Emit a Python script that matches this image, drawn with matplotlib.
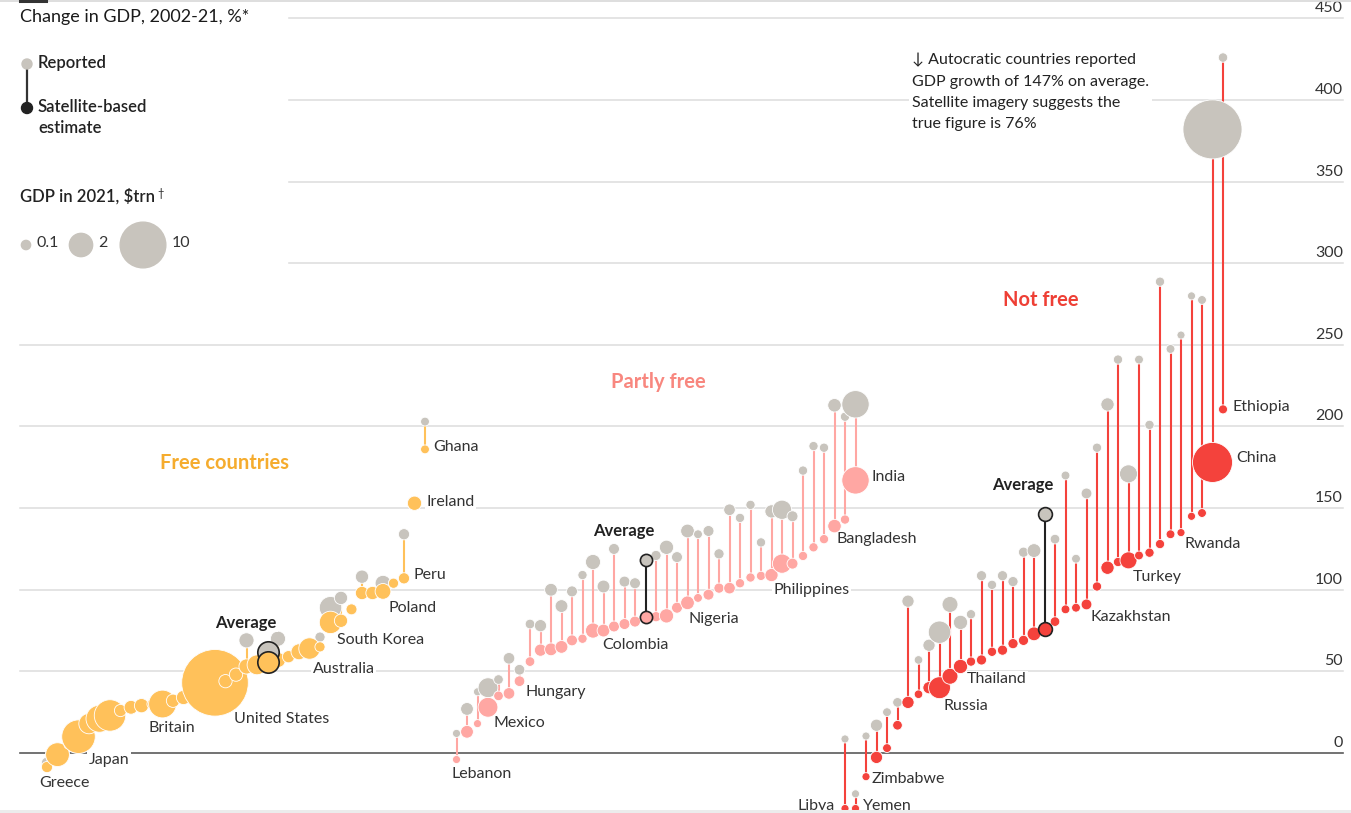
import numpy as np
import matplotlib.pyplot as plt
from matplotlib.patches import Rectangle, Circle

plt.rcParams['font.family'] = ['Lato', 'DejaVu Sans']

W, H, DPI = 1351, 813, 100

# % change in GDP 2002-21, each group sorted by satellite-based estimate
free_est = [-8.6, -1, 5, 10, 18, 21, 23, 26, 28, 29, 30, 30, 32, 34, 37, 40, 43, 44, 48, 53,
            54, 57, 59, 62, 64, 65, 80, 81, 88, 98, 98, 99, 104, 107, 153, 186]
free_rep = [-6, -1, 5, 10, 18, 21, 23, 26, 28, 29, 30, 30, 32, 34, 37, 40, 43, 44, 48, 69,
            54, 70, 59, 62, 64, 71, 89, 95, 88, 108, 98, 104, 104, 134, 153, 203]
free_gdp = [0.22, 2.1, 0.05, 4.9, 1.4, 2.9, 4.2, 0.3, 0.45, 0.5, 0.15, 3.1, 0.4, 0.5, 0.2, 0.2,
            23.0, 0.4, 0.4, 0.6, 1.3, 0.6, 0.3, 0.7, 1.6, 0.15, 1.8, 0.4, 0.2, 0.4, 0.4, 0.68,
            0.15, 0.22, 0.5, 0.08]
free_names = {0: 'Greece', 3: 'Japan', 11: 'Britain', 16: 'United States', 24: 'Australia',
              26: 'South Korea', 31: 'Poland', 33: 'Peru', 34: 'Ireland', 35: 'Ghana'}

partly_est = [-4, 13, 18, 28, 35, 36.5, 44, 56, 63, 63.5, 65, 69, 70, 75, 75, 77.5, 79, 80.5,
              83.5, 84, 89, 92, 95, 97, 101, 101, 104, 107.5, 108.5, 109, 116, 116, 120.7, 126,
              131, 139, 143, 167]
partly_rep = [12, 27, 37.5, 40, 45, 58, 51, 79, 78, 100, 90, 99, 109, 117, 102, 125, 105, 104,
              121, 126, 120, 136, 134, 136, 122, 149, 144, 152, 129, 148, 149, 145, 173, 188,
              187, 213, 206, 213.6]
partly_gdp = [0.05, 0.35, 0.05, 1.3, 0.12, 0.25, 0.18, 0.12, 0.3, 0.35, 0.35, 0.2, 0.1, 0.6,
              0.35, 0.2, 0.2, 0.2, 0.15, 0.5, 0.2, 0.44, 0.08, 0.2, 0.15, 0.25, 0.1, 0.1, 0.1,
              0.39, 1.2, 0.2, 0.1, 0.1, 0.1, 0.42, 0.1, 3.0]
partly_names = {0: 'Lebanon', 3: 'Mexico', 6: 'Hungary', 14: 'Colombia', 21: 'Nigeria',
                29: 'Philippines', 35: 'Bangladesh', 37: 'India'}

notfree_est = [-34, -34, -14.5, -2.7, 3, 17, 31, 36, 40, 40, 47, 53, 56, 57, 62, 63, 67, 69, 73,
               80.5, 88, 89, 91, 102, 113.5, 117, 118, 121, 122.7, 128, 134, 135, 145, 147,
               178, 210.5]
notfree_rep = [8.6, -25, 10.4, 17, 25, 31, 93, 57, 66, 74, 91, 80, 85, 108.6, 103, 108.6, 105,
               123, 124, 131, 170, 119, 159, 187, 213.5, 241, 171, 241, 201, 288.7, 247.5, 256,
               280, 277.5, 382, 426]
# reported GDP sizes, and sizes implied by the satellite estimate
notfree_gdp = [0.05, 0.05, 0.05, 0.3, 0.08, 0.12, 0.3, 0.07, 0.3, 1.8, 0.7, 0.5, 0.1, 0.15, 0.1,
               0.15, 0.15, 0.15, 0.45, 0.12, 0.08, 0.08, 0.19, 0.1, 0.4, 0.1, 1.0, 0.08, 0.1,
               0.1, 0.08, 0.05, 0.05, 0.08, 17.7, 0.11]
notfree_gdp_sat = [0.05, 0.05, 0.05, 0.3, 0.08, 0.12, 0.3, 0.07, 0.3, 1.7, 0.7, 0.5, 0.1, 0.15,
                   0.1, 0.15, 0.15, 0.15, 0.45, 0.12, 0.08, 0.08, 0.19, 0.1, 0.4, 0.1, 0.85,
                   0.08, 0.1, 0.1, 0.08, 0.05, 0.05, 0.08, 7.4, 0.09]
notfree_names = {0: 'Libya', 1: 'Yemen', 2: 'Zimbabwe', 9: 'Russia', 11: 'Thailand',
                 22: 'Kazakhstan', 26: 'Turkey', 31: 'Rwanda', 34: 'China', 35: 'Ethiopia'}

# group averages: reported, estimate, size
avg_rep = [62, 118, 146.6]
avg_est = [55.5, 83.5, 76]
avg_gdp = [1.6, 0.3, 0.45]

size_legend = [0.1, 2, 10]
y_ticks = [0, 50, 100, 150, 200, 250, 300, 350, 400, 450]

GRAY = '#C8C4BD'
COLS = ['#FFC15A', '#FFA7A3', '#F4423C']
TITLE_COLS = ['#F5AC2E', '#F8877F', '#EE3F35']
TXT = '#333333'

# layout: one slot per country, groups start at given slot; average gets its own slot
SLOT, X0 = 10.5, 47
starts = [0, 39, 76]
avg_slot = [21, 18, 19]


def radius(g):
    return 2.6 + 6.4 * np.sqrt(np.asarray(g, dtype=float))


def msize(g):
    return (2 * radius(g) * 72 / DPI) ** 2


fig = plt.figure(figsize=(W / DPI, H / DPI), dpi=DPI)
ax = fig.add_axes([0, 0, 1, 1])
ax.set_xlim((0 - X0) / SLOT, (W - X0) / SLOT)
PXU = 1.6325
ax.set_ylim((753 - H) / PXU, 753 / PXU)
ax.axis('off')

# gridlines and y labels
for v in y_ticks:
    if v == 0:
        ax.axhline(v, xmin=20 / W, xmax=1343 / W, color='#5a5a5a', lw=1.2, zorder=0.5)
    else:
        ax.axhline(v, xmin=20 / W, xmax=1343 / W, color='#dcdcdc', lw=1.1, zorder=0)
    ax.annotate(str(v), xy=(1343 / W, v), xycoords=('axes fraction', 'data'),
                xytext=(0, 3), textcoords='offset pixels', ha='right', va='bottom',
                fontsize=11.5, color=TXT, zorder=1)

groups = [(free_est, free_rep, free_gdp, free_gdp, free_names),
          (partly_est, partly_rep, partly_gdp, partly_gdp, partly_names),
          (notfree_est, notfree_rep, notfree_gdp, notfree_gdp_sat, notfree_names)]

# label offsets in pixels: dx, dy (down), alignment
lab_off = {'Greece': (17, 16, 'center'), 'Japan': (10, 23, 'left'), 'Britain': (-14, 24, 'left'),
           'United States': (19, 36, 'left'), 'Australia': (3, 20, 'left'),
           'South Korea': (6, 18, 'left'), 'Poland': (5, 17, 'left'), 'Peru': (9, -3, 'left'),
           'Ireland': (12, -1, 'left'), 'Ghana': (8, -2, 'left'), 'Lebanon': (-5, 14, 'left'),
           'Mexico': (5, 16, 'left'), 'Hungary': (6, 11, 'left'), 'Colombia': (-1, 14, 'left'),
           'Nigeria': (1, 16, 'left'), 'Philippines': (2, 15, 'left'),
           'Bangladesh': (2, 13, 'left'), 'India': (16, -3, 'left'), 'Libya': (-10, -3, 'right'),
           'Yemen': (7, -3, 'left'), 'Zimbabwe': (6, 2, 'left'), 'Russia': (4, 18, 'left'),
           'Thailand': (6, 13, 'left'), 'Kazakhstan': (4, 13, 'left'), 'Turkey': (4, 17, 'left'),
           'Rwanda': (3, 11, 'left'), 'China': (24, -4, 'left'), 'Ethiopia': (9, -2, 'left')}

pos = []
for gi, (est, rep, gdp, gdp_sat, names) in enumerate(groups):
    n = len(est)
    slots = [s for s in range(n + 1) if s != avg_slot[gi]]
    xs = starts[gi] + np.array(slots, dtype=float)
    pos.append(xs)
    ax.vlines(xs, rep, est, color=COLS[gi], lw=1.5, zorder=2)

for gi, (est, rep, gdp, gdp_sat, names) in enumerate(groups):
    ax.scatter(pos[gi], rep, s=msize(gdp), color=GRAY, edgecolor='white', lw=0.6, zorder=3)
for gi, (est, rep, gdp, gdp_sat, names) in enumerate(groups):
    ax.scatter(pos[gi], est, s=msize(gdp_sat), color=COLS[gi], edgecolor='white', lw=0.6,
               zorder=4)
    for idx, name in names.items():
        dx, dy, ha = lab_off[name]
        ax.annotate(name, xy=(pos[gi][idx], est[idx]), xytext=(dx, -dy),
                    textcoords='offset pixels', ha=ha, va='center', fontsize=11.5, color=TXT,
                    zorder=1.5, bbox=dict(facecolor='white', edgecolor='none', pad=1))

    # average marker
    xa = starts[gi] + avg_slot[gi]
    ax.vlines(xa, avg_rep[gi], avg_est[gi], color='#222222', lw=1.5, zorder=5)
    ax.scatter([xa], [avg_rep[gi]], s=msize(avg_gdp[gi]), color=GRAY, edgecolor='#222222',
               lw=1.2, zorder=6)
    ax.scatter([xa], [avg_est[gi]], s=msize(avg_gdp[gi]), color=COLS[gi], edgecolor='#222222',
               lw=1.2, zorder=6)
    ax.annotate('Average', xy=(xa, avg_rep[gi]), xytext=(9, 29), textcoords='offset pixels',
                ha='right', va='center', fontsize=12, fontweight='bold', color='#222222',
                zorder=7, bbox=dict(facecolor='white', edgecolor='none', pad=1))

# overlay in pixel coordinates for legend, titles and notes
ov = fig.add_axes([0, 0, 1, 1])
ov.set_xlim(0, W)
ov.set_ylim(H, 0)
ov.axis('off')
ov.patch.set_alpha(0)

ov.add_patch(Rectangle((0, 0), 287, 275, color='white', zorder=0))
ov.plot([0, W], [1, 1], color='#d8d8d8', lw=1.2)
ov.plot([20, 46], [1, 1], color='#333333', lw=2.2)
ov.add_patch(Rectangle((0, 810), W, 3, color='#ececec', lw=0))

ov.text(20, 17, 'Change in GDP, 2002-21, %*', fontsize=13, color='#1a1a1a', va='center')

ov.plot([27, 27], [64, 108], color='#333333', lw=1.6, zorder=1)
ov.add_patch(Circle((27, 64), 5, color=GRAY, zorder=2))
ov.add_patch(Circle((27, 108), 5.5, color='#222222', zorder=2))
ov.text(38, 63, 'Reported', fontsize=12, fontweight='semibold', color='#222222', va='center')
ov.text(38, 107, 'Satellite-based', fontsize=12, fontweight='semibold', color='#222222',
        va='center')
ov.text(38, 128, 'estimate', fontsize=12, fontweight='semibold', color='#222222', va='center')

gdp_title = ov.text(20, 196, 'GDP in 2021, \\$trn', fontsize=12, fontweight='semibold',
                    color='#222222', va='center')
ov.annotate('\u2020', xy=(1, 1), xycoords=gdp_title, xytext=(2, 0), textcoords='offset pixels',
            ha='left', va='top', fontsize=8, color='#222222')

lx = [26, 81, 143]
for g, x in zip(size_legend, lx):
    r = radius(g)
    ov.add_patch(Circle((x, 245), r, color=GRAY, zorder=2))
    ov.text(x + r + 6, 243, str(g), fontsize=11.5, color=TXT, va='center')

ov.text(224, 463, 'Free countries', fontsize=14.5, fontweight='bold', color=TITLE_COLS[0],
        ha='center', va='center')
ov.text(658, 382, 'Partly free', fontsize=14.5, fontweight='bold', color=TITLE_COLS[1],
        ha='center', va='center')
ov.text(1041, 300, 'Not free', fontsize=14.5, fontweight='bold', color=TITLE_COLS[2],
        ha='center', va='center')

ov.text(912, 53, '\u2193 Autocratic countries reported\nGDP growth of 147% on average.\n'
        'Satellite imagery suggests the\ntrue figure is 76%', fontsize=11.5, color='#222222',
        va='top', ha='left', linespacing=1.65,
        bbox=dict(facecolor='white', edgecolor='none', pad=2))

fig.savefig('out.png', dpi=DPI)
